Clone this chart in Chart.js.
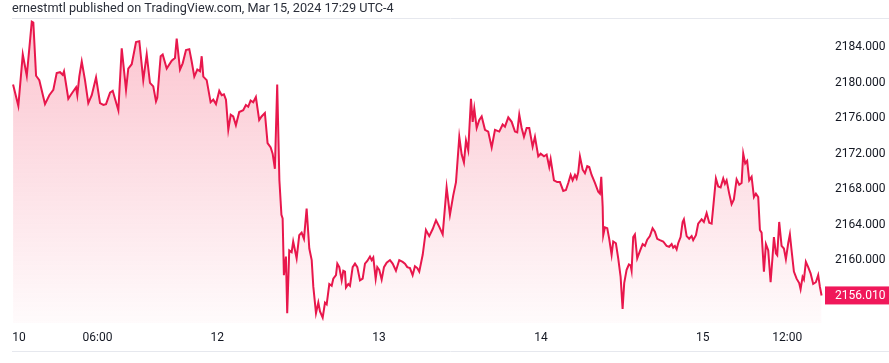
<!DOCTYPE html>
<html>
<head>
<meta charset="utf-8">
<script src="https://cdn.jsdelivr.net/npm/chart.js@4.4.1/dist/chart.umd.min.js"></script>
<style>
    html, body { margin: 0; padding: 0; background: #ffffff; }
</style>
</head>
<body>
<canvas id="goldChart" width="889" height="363"></canvas>
<script>
// Trading hours since the Sunday 18:00 open (Mar 10), one value per sampled bar
const hours = [
    // Mar 10 evening / Mar 11
    0.0, 0.75, 1.38, 1.95, 2.66, 2.88, 3.27, 3.73, 4.54, 5.15, 5.72, 6.2, 6.67, 7.06, 7.24, 7.85, 8.34, 8.95, 9.13, 9.41,
    9.76, 10.22, 10.69, 11.18, 11.79, 12.36, 12.83, 13.21, 13.78, 14.16, 14.96, 15.44, 16.05, 16.37, 16.86, 17.47, 17.94, 18.5,
    18.99, 19.45, 19.92, 20.31, 20.49, 20.97, 21.26, 21.83, 22.54, 23.0, 23.25, 23.72, 24.1, 24.57, 25.04, 25.38, 25.75, 26.18, 26.56, 26.8,
    27.03, 27.51, 28.07, 28.45, 28.83, 29.3, 29.64, 29.96, 30.25, 30.58, 30.92, 31.28, 31.66, 32.13, 32.7, 33.08, 33.41, 33.75, 34.12, 34.5,
    34.97, 35.31, 35.78, 36.16, 36.6, 36.88, 37.2, 37.53,
    // Mar 12 selloff and Mar 13
    37.84, 38.13, 38.3, 38.48, 38.77, 38.95, 39.24, 39.58, 39.8, 40.29, 40.66, 41.0, 41.33, 41.71, 42.09, 42.43, 42.66, 43.04, 43.37, 43.61,
    43.99, 44.32, 44.56, 44.93, 45.27, 45.5, 45.88, 46.07, 46.35, 46.69, 46.92, 47.16, 47.3, 47.63, 47.87, 48.25, 48.58, 48.91, 49.29, 49.67,
    50.0, 50.33, 50.71, 50.95, 51.18, 51.52, 51.75, 52.03, 52.37, 52.7, 53.08, 53.55, 53.93, 54.4, 54.87, 55.35, 55.68, 56.01, 56.39, 56.77,
    57.1, 57.43, 57.71, 58.2,
    58.66, 59.13, 59.62, 60.09, 60.56, 61.04, 61.6, 62.07, 62.54, 62.93, 63.4, 63.74, 64.06, 64.35, 64.67, 65.06, 65.3, 65.53, 65.87, 66.24,
    66.58, 67.05, 67.51, 68.0, 68.47, 69.08, 69.56, 69.89, 70.36, 70.84, 71.31, 71.63, 71.92, 72.26, 72.59, 72.97, 73.34, 73.82, 74.15, 74.62,
    74.96, 75.43, 75.81, 76.18, 76.38, 76.85, 77.31, 77.7, 78.17,
    // Mar 14
    78.55, 78.88, 79.22, 79.5, 79.83, 80.07, 80.3, 80.54, 80.93, 81.25, 81.58, 81.86, 82.2, 82.67, 83.14, 83.38, 83.57, 83.77, 83.85, 84.09,
    84.42, 84.7, 85.04, 85.27, 85.65, 85.98, 86.32, 86.6, 86.83, 87.17, 87.5, 87.74, 87.88, 88.11, 88.35, 88.68, 89.06, 89.45, 89.77, 90.1,
    90.48, 90.86, 91.19, 91.52, 91.9, 92.37, 92.85, 93.22, 93.57, 93.79, 94.03, 94.28, 94.5, 94.84, 95.13, 95.31, 95.7, 96.06, 96.41, 96.63,
    97.02, 97.34, 97.83,
    // Mar 15
    98.15, 98.54, 98.91, 99.25, 99.48, 99.86, 100.19, 100.53, 100.9, 101.14, 101.38, 101.75, 102.09, 102.41, 102.8, 103.17, 103.51, 103.74, 104.02, 104.3,
    104.59, 104.93, 105.26, 105.54, 105.87, 106.11, 106.35, 106.68, 106.96, 107.29, 107.63, 107.91, 108.1, 108.38, 108.57, 108.85, 109.19, 109.52, 109.8, 110.13,
    110.37, 110.61, 110.94, 111.32, 111.69, 111.89, 112.17, 112.36, 112.64, 112.97, 113.31, 113.68, 114.06, 114.39, 114.63, 114.87
];

const prices = [
    2179.8, 2177.4, 2183.2, 2180.8, 2186.9, 2186.8, 2180.8, 2180.3, 2177.6, 2178.6, 2179.2, 2181.1, 2181.2, 2180.9, 2181.3, 2178.2, 2178.8, 2179.5, 2178.6, 2180.7,
    2182.4, 2180.3, 2177.7, 2178.6, 2180.6, 2177.7, 2177.5, 2177.6, 2178.9, 2179.1, 2176.9, 2183.9, 2179.2, 2181.6, 2182.1, 2184.6, 2184.7, 2180.3,
    2183.2, 2180.0, 2179.6, 2177.9, 2178.3, 2183.0, 2183.2, 2181.6, 2182.5, 2182.8, 2185.0, 2181.5, 2182.2, 2183.7, 2183.8, 2182.4, 2180.7, 2181.5, 2181.3, 2183.0,
    2180.7, 2180.3, 2177.8, 2178.1, 2177.6, 2179.1, 2178.6, 2178.7, 2178.1, 2174.7, 2176.4, 2176.2, 2175.2, 2176.7, 2176.9, 2177.5, 2177.3, 2178.0, 2177.8, 2178.4,
    2175.8, 2176.2, 2176.6, 2173.2, 2172.7, 2172.0, 2170.3, 2179.8,
    2169.0, 2165.1, 2164.7, 2158.3, 2160.4, 2154.0, 2161.1, 2160.9, 2162.1, 2160.2, 2162.8, 2163.1, 2162.4, 2165.8, 2161.3, 2160.0, 2157.0, 2154.0, 2155.2, 2154.2,
    2153.5, 2155.2, 2155.0, 2157.3, 2157.1, 2157.9, 2158.3, 2159.6, 2159.2, 2157.7, 2158.8, 2158.7, 2156.9, 2157.3, 2157.1, 2159.2, 2159.6, 2159.2, 2157.7, 2157.9,
    2159.6, 2159.9, 2160.4, 2160.0, 2160.3, 2157.9, 2159.2, 2158.9, 2157.8, 2159.2, 2159.7, 2160.0, 2159.6, 2158.8, 2160.0, 2159.8, 2159.6, 2159.2, 2159.1, 2158.3,
    2159.3, 2159.1, 2158.7, 2160.6,
    2163.4, 2162.7, 2163.5, 2164.5, 2163.75, 2162.9, 2168.2, 2165.1, 2167.3, 2168.8, 2173.9, 2171.9, 2171.0, 2173.5, 2172.4, 2178.2, 2175.6, 2177.1, 2174.9, 2175.8,
    2176.2, 2174.7, 2174.5, 2172.7, 2174.7, 2174.5, 2175.3, 2175.05, 2176.1, 2175.6, 2174.5, 2174.4, 2176.4, 2174.9, 2173.9, 2174.9, 2174.9, 2172.8, 2173.9, 2171.7,
    2172.0, 2171.7, 2171.9, 2170.5, 2171.4, 2169.0, 2168.8, 2168.8, 2167.8,
    2167.9, 2168.7, 2169.6, 2169.0, 2169.6, 2169.2, 2169.9, 2171.7, 2170.2, 2169.8, 2170.6, 2170.5, 2169.6, 2168.7, 2167.7, 2167.5, 2169.4, 2166.0, 2162.8, 2163.7,
    2163.6, 2162.4, 2160.6, 2162.1, 2161.9, 2160.2, 2158.1, 2154.5, 2157.4, 2158.9, 2159.5, 2159.4, 2158.8, 2162.6, 2162.9, 2160.2, 2161.0, 2161.8, 2161.6, 2162.3,
    2162.7, 2163.6, 2163.2, 2162.4, 2162.25, 2162.1, 2161.6, 2161.5, 2161.8, 2161.4, 2161.6, 2161.2, 2161.9, 2162.6, 2164.3, 2164.6, 2162.7, 2162.4, 2162.7, 2162.25,
    2162.8, 2164.1, 2164.6,
    2164.3, 2165.3, 2164.2, 2164.1, 2166.0, 2169.2, 2168.3, 2168.2, 2169.2, 2168.6, 2169.0, 2167.5, 2166.3, 2166.85, 2169.1, 2168.5, 2168.7, 2172.0, 2170.9, 2171.2,
    2169.0, 2169.4, 2167.1, 2167.5, 2167.1, 2163.4, 2163.1, 2158.7, 2161.8, 2161.1, 2157.5, 2160.4, 2162.6, 2160.75, 2160.55, 2164.3, 2161.6, 2161.3, 2160.1, 2161.9,
    2162.9, 2161.1, 2158.7, 2157.9, 2157.4, 2156.7, 2158.1, 2157.8, 2159.8, 2159.2, 2158.5, 2157.3, 2157.5, 2158.3, 2157.0, 2156.01
];

// Axis ticks
const priceTicks = [2160, 2164, 2168, 2172, 2176, 2180, 2184];
const timeTicks = [0.85, 12, 29, 52, 75, 98, 110];
const timeLabels = ['10', '06:00', '12', '13', '14', '15', '12:00'];

const headerText = 'ernestmtl published on TradingView.com, Mar 15, 2024 17:29 UTC-4';

const lineColor = '#e8174c';
const textColor = '#131722';
const fontFamily = 'Roboto, sans-serif';

const points = hours.map((h, i) => ({ x: h, y: prices[i] }));
const lastPrice = prices[prices.length - 1];

// Header, frame lines and the last-price tag
const decorations = {
    id: 'decorations',
    afterDraw(chart) {
        const { ctx, chartArea, scales } = chart;
        ctx.save();
        ctx.font = '12.7px ' + fontFamily;
        ctx.fillStyle = '#2a2e39';
        ctx.textBaseline = 'alphabetic';
        ctx.textAlign = 'left';
        ctx.fillText(headerText, 12, 12);

        ctx.strokeStyle = '#e6e8ee';
        ctx.lineWidth = 1;
        ctx.beginPath();
        ctx.moveTo(12, chartArea.top - 0.5);
        ctx.lineTo(chart.width, chartArea.top - 0.5);
        ctx.moveTo(12, 351.5);
        ctx.lineTo(chart.width, 351.5);
        ctx.stroke();

        const y = scales.y.getPixelForValue(lastPrice);
        ctx.fillStyle = '#f0185a';
        ctx.fillRect(chartArea.right - 1, y - 9, chart.width - chartArea.right + 1, 18);
        ctx.fillStyle = '#ffffff';
        ctx.font = '12px ' + fontFamily;
        ctx.textBaseline = 'middle';
        ctx.fillText(lastPrice.toFixed(3), scales.y.left + 9, y + 0.5);
        ctx.restore();
    }
};

new Chart(document.getElementById('goldChart').getContext('2d'), {
    type: 'line',
    data: {
        datasets: [{
            data: points,
            borderColor: lineColor,
            borderWidth: 2,
            pointRadius: 0,
            tension: 0,
            fill: 'start',
            backgroundColor: (context) => {
                const { chartArea, ctx } = context.chart;
                if (!chartArea) return 'rgba(242, 40, 80, 0.15)';
                const g = ctx.createLinearGradient(0, chartArea.top, 0, chartArea.bottom);
                g.addColorStop(0, 'rgba(242, 40, 80, 0.28)');
                g.addColorStop(1, 'rgba(242, 40, 80, 0.02)');
                return g;
            }
        }]
    },
    options: {
        responsive: false,
        animation: false,
        layout: { padding: { top: 19, left: 12, right: 0, bottom: 0 } },
        plugins: {
            legend: { display: false },
            tooltip: { enabled: false }
        },
        scales: {
            x: {
                type: 'linear',
                min: -0.15,
                max: 115.5,
                grid: { display: false, drawTicks: false },
                border: { display: false },
                afterBuildTicks: (scale) => {
                    scale.ticks = timeTicks.map(v => ({ value: v }));
                },
                afterFit: (scale) => { scale.height = 40; },
                ticks: {
                    autoSkip: false,
                    maxRotation: 0,
                    padding: 8,
                    color: textColor,
                    font: { family: fontFamily, size: 12 },
                    callback: (value, index) => timeLabels[index]
                }
            },
            y: {
                position: 'right',
                min: 2152.9,
                max: 2187.2,
                grid: { display: false, drawTicks: false },
                border: { display: false },
                afterBuildTicks: (scale) => {
                    scale.ticks = priceTicks.map(v => ({ value: v }));
                },
                afterFit: (scale) => { scale.width = 63; },
                ticks: {
                    padding: 9,
                    color: textColor,
                    font: { family: fontFamily, size: 12 },
                    callback: (value) => Number(value).toFixed(3)
                }
            }
        }
    },
    plugins: [decorations]
});
</script>
</body>
</html>
